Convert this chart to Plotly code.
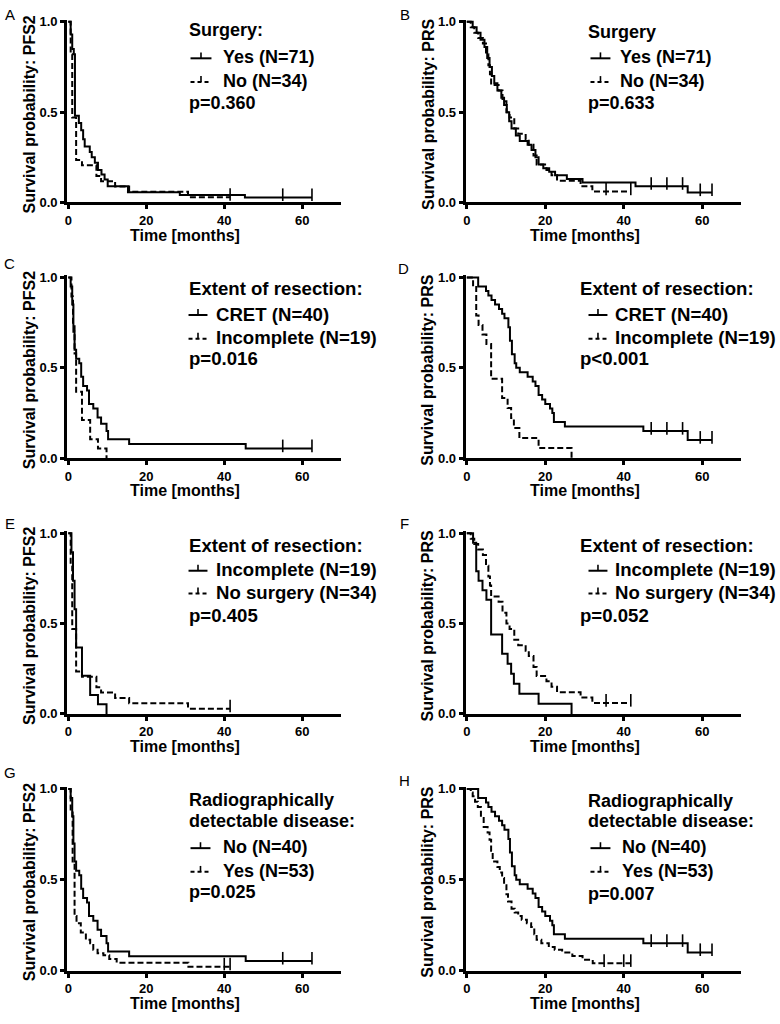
import numpy as np
import plotly.graph_objects as go

# ---------------- DATA (months, survival probability) ----------------
# PFS2 – surgery yes (N=71)
pfs2_surg_yes_t = [0, 0.6, 1.0, 1.4, 1.7, 2.7, 3.3, 3.8, 4.2, 5.5, 6.0, 6.8, 7.6, 8.5, 9.3, 10.1, 15.3, 28.6, 45.3, 62.5]
pfs2_surg_yes_s = [1.0, 0.93, 0.85, 0.82, 0.48, 0.44, 0.40, 0.35, 0.31, 0.28, 0.25, 0.22, 0.18, 0.155, 0.127, 0.09, 0.056, 0.042, 0.028, 0.028]
pfs2_surg_yes_c = [55.0, 62.5]
# PFS2 – no surgery (N=34)
pfs2_nosurg_t = [0, 0.6, 1.0, 2.0, 3.5, 7.2, 8.4, 12.0, 15.6, 30.7, 41.5]
pfs2_nosurg_s = [1.0, 0.82, 0.47, 0.235, 0.206, 0.147, 0.118, 0.088, 0.059, 0.029, 0.029]
pfs2_nosurg_c = [41.5]
# PFS2 – CRET (N=40) = no radiographically detectable disease
pfs2_cret_t = [0, 0.6, 1.0, 1.3, 1.6, 2.0, 2.8, 3.3, 3.8, 4.8, 5.3, 6.4, 7.5, 8.4, 9.8, 10.2, 15.6, 45.5, 62.5]
pfs2_cret_s = [1.0, 0.95, 0.85, 0.70, 0.60, 0.55, 0.525, 0.45, 0.40, 0.375, 0.30, 0.275, 0.225, 0.19, 0.15, 0.105, 0.079, 0.053, 0.053]
pfs2_cret_c = [55.0, 62.5]
# PFS2 – incomplete resection (N=19)
pfs2_inc_t = [0, 0.8, 1.2, 1.6, 2.0, 3.5, 5.6, 7.6, 9.8]
pfs2_inc_s = [1.0, 0.895, 0.737, 0.579, 0.368, 0.211, 0.105, 0.053, 0.0]
pfs2_inc_c = []
# PFS2 – radiographically detectable disease yes (N=53)
pfs2_rad_yes_t = [0, 0.6, 1.1, 1.6, 2.1, 3.2, 4.5, 5.6, 6.4, 7.5, 9.0, 10.5, 12.4, 30.8, 41.5]
pfs2_rad_yes_s = [1.0, 0.87, 0.60, 0.30, 0.26, 0.21, 0.17, 0.15, 0.115, 0.096, 0.085, 0.064, 0.043, 0.021, 0.021]
pfs2_rad_yes_c = [40.0, 41.5]

# PRS – surgery yes (N=71)
prs_surg_yes_t = [0, 1.5, 2.5, 3.5, 4.5, 5.2, 5.8, 6.4, 7.0, 7.8, 8.8, 9.5, 10.2, 10.8, 11.4, 12.5, 13.5, 15.5, 16.5, 17.5, 18.3, 19.5, 21.0, 22.5, 25.5, 29.5, 43.0, 56.3, 62.5]
prs_surg_yes_s = [1.0, 0.97, 0.94, 0.90, 0.86, 0.80, 0.75, 0.70, 0.66, 0.62, 0.58, 0.54, 0.50, 0.45, 0.41, 0.37, 0.34, 0.32, 0.29, 0.25, 0.21, 0.19, 0.17, 0.15, 0.13, 0.11, 0.09, 0.055, 0.055]
prs_surg_yes_c = [47.0, 51.0, 55.0, 59.5, 62.5]
# PRS – no surgery (N=34)
prs_nosurg_t = [0, 1.0, 1.9, 2.9, 4.1, 4.9, 5.5, 5.9, 6.2, 8.1, 9.1, 10.1, 10.9, 12.1, 13.1, 15.0, 15.8, 17.0, 17.8, 20.3, 21.6, 23.0, 29.0, 32.0, 41.8]
prs_nosurg_s = [1.0, 0.97, 0.94, 0.91, 0.88, 0.82, 0.76, 0.71, 0.65, 0.62, 0.56, 0.50, 0.47, 0.41, 0.38, 0.35, 0.32, 0.26, 0.21, 0.18, 0.15, 0.12, 0.09, 0.06, 0.06]
prs_nosurg_c = [35.5, 41.8]
# PRS – CRET (N=40) = no radiographically detectable disease
prs_cret_t = [0, 2.9, 4.9, 5.5, 6.3, 7.2, 8.2, 9.0, 9.6, 10.6, 11.0, 11.5, 12.2, 12.6, 13.5, 15.5, 16.8, 17.5, 18.3, 19.2, 20.0, 21.2, 21.8, 22.2, 25.0, 45.0, 56.3, 62.5]
prs_cret_s = [1.0, 0.95, 0.925, 0.9, 0.875, 0.85, 0.825, 0.8, 0.775, 0.725, 0.65, 0.575, 0.525, 0.5, 0.475, 0.45, 0.425, 0.4, 0.35, 0.325, 0.3, 0.275, 0.25, 0.2, 0.175, 0.15, 0.10, 0.10]
prs_cret_c = [47.0, 51.0, 55.0, 59.5, 62.5]
# PRS – incomplete resection (N=19)
prs_inc_t = [0, 1.6, 2.4, 3.0, 4.0, 5.0, 6.2, 9.0, 10.4, 11.3, 12.0, 13.4, 18.3, 26.7]
prs_inc_s = [1.0, 0.947, 0.789, 0.737, 0.684, 0.632, 0.44, 0.333, 0.278, 0.222, 0.167, 0.111, 0.056, 0.0]
prs_inc_c = []
# PRS – radiographically detectable disease yes (N=53)
prs_rad_yes_t = [0, 1.0, 1.5, 2.1, 2.8, 3.6, 4.3, 5.3, 5.8, 6.2, 6.6, 7.8, 8.4, 9.0, 9.5, 10.1, 10.5, 11.4, 12.2, 13.1, 14.0, 15.3, 16.4, 17.2, 17.8, 19.0, 20.9, 22.4, 24.3, 26.9, 29.5, 32.1, 41.8]
prs_rad_yes_s = [1.0, 0.98, 0.96, 0.93, 0.90, 0.84, 0.79, 0.76, 0.72, 0.66, 0.60, 0.57, 0.54, 0.51, 0.47, 0.42, 0.38, 0.34, 0.32, 0.30, 0.28, 0.26, 0.24, 0.20, 0.17, 0.15, 0.13, 0.115, 0.10, 0.08, 0.06, 0.04, 0.04]
prs_rad_yes_c = [35.0, 40.0, 41.8]

x_ticks = [0, 20, 40, 60]
x_ticktext = ["0", "20", "40", "60"]
y_ticks = [0, 0.5, 1.0]
y_ticktext = ["0.0", "0.5", "1.0"]

# ---------------- LAYOUT SPEC ----------------
W, H = 780, 1024
FONT = "Arial, 'Liberation Sans', sans-serif"


def px(x):
    return x / W


def py(y):
    return 1 - y / H


rows_px = [(200, 17), (459, 276), (718, 535), (978, 794)]  # (y of 0, y of 1.0)
cols_px = {"L": (66.5, 301.0), "R": (466.0, 702.0)}        # (x of 0, x of 60)

panels = [
    dict(letter="A", side="L", row=0, ylab="Survival probability: PFS2",
         head=["Surgery:"], labels=["Yes (N=71)", "No (N=34)"], p="p=0.360",
         solid=(pfs2_surg_yes_t, pfs2_surg_yes_s, pfs2_surg_yes_c),
         dashed=(pfs2_nosurg_t, pfs2_nosurg_s, pfs2_nosurg_c), fs=18,
         hx=185, tx=220, samp=(189, 210), ly=[25, 53, 77, 99], lpos=(8, 10)),
    dict(letter="B", side="R", row=0, ylab="Survival probability: PRS",
         head=["Surgery"], labels=["Yes (N=71)", "No (N=34)"], p="p=0.633",
         solid=(prs_surg_yes_t, prs_surg_yes_s, prs_surg_yes_c),
         dashed=(prs_nosurg_t, prs_nosurg_s, prs_nosurg_c), fs=18,
         hx=586, tx=618, samp=(590, 610), ly=[27, 53, 77, 99], lpos=(404, 10)),
    dict(letter="C", side="L", row=1, ylab="Survival probability: PFS2",
         head=["Extent of resection:"], labels=["CRET (N=40)", "Incomplete (N=19)"], p="p=0.016",
         solid=(pfs2_cret_t, pfs2_cret_s, pfs2_cret_c),
         dashed=(pfs2_inc_t, pfs2_inc_s, pfs2_inc_c), fs=18.6,
         hx=185, tx=213, samp=(187, 206), ly=[287, 313, 337, 358], lpos=(8, 262)),
    dict(letter="D", side="R", row=1, ylab="Survival probability: PRS",
         head=["Extent of resection:"], labels=["CRET (N=40)", "Incomplete (N=19)"], p="p<0.001",
         solid=(prs_cret_t, prs_cret_s, prs_cret_c),
         dashed=(prs_inc_t, prs_inc_s, prs_inc_c), fs=18.6,
         hx=577, tx=613, samp=(588, 607), ly=[287, 313, 337, 358], lpos=(403, 267)),
    dict(letter="E", side="L", row=2, ylab="Survival probability: PFS2",
         head=["Extent of resection:"], labels=["Incomplete (N=19)", "No surgery (N=34)"], p="p=0.405",
         solid=(pfs2_inc_t, pfs2_inc_s, pfs2_inc_c),
         dashed=(pfs2_nosurg_t, pfs2_nosurg_s, pfs2_nosurg_c), fs=18.6,
         hx=185, tx=213, samp=(187, 206), ly=[547, 572, 595, 618], lpos=(8, 525)),
    dict(letter="F", side="R", row=2, ylab="Survival probability: PRS",
         head=["Extent of resection:"], labels=["Incomplete (N=19)", "No surgery (N=34)"], p="p=0.052",
         solid=(prs_inc_t, prs_inc_s, prs_inc_c),
         dashed=(prs_nosurg_t, prs_nosurg_s, prs_nosurg_c), fs=18.6,
         hx=577, tx=613, samp=(588, 607), ly=[547, 572, 595, 618], lpos=(404, 525)),
    dict(letter="G", side="L", row=3, ylab="Survival probability: PFS2",
         head=["Radiographically", "detectable disease:"], labels=["No (N=40)", "Yes (N=53)"], p="p=0.025",
         solid=(pfs2_cret_t, pfs2_cret_s, pfs2_cret_c),
         dashed=(pfs2_rad_yes_t, pfs2_rad_yes_s, pfs2_rad_yes_c), fs=18,
         hx=185, tx=220, samp=(189, 209), ly=[805, 826, 853, 877, 898], lpos=(8, 777)),
    dict(letter="H", side="R", row=3, ylab="Survival probability: PRS",
         head=["Radiographically", "detectable disease:"], labels=["No (N=40)", "Yes (N=53)"], p="p=0.007",
         solid=(prs_cret_t, prs_cret_s, prs_cret_c),
         dashed=(prs_rad_yes_t, prs_rad_yes_s, prs_rad_yes_c), fs=18,
         hx=586, tx=620, samp=(590, 610), ly=[806, 826, 853, 877, 900], lpos=(404, 785)),
]


def surv_at(t, s, c):
    t = np.asarray(t)
    s = np.asarray(s)
    idx = np.searchsorted(t, c, side="right") - 1
    return s[np.clip(idx, 0, len(s) - 1)]


fig = go.Figure()
annotations = []
shapes = []
XMIN, XMAX, YMAX = -0.3, 70, 1.012
DASH = "6px,3px"

for i, pnl in enumerate(panels, start=1):
    xs = "x" if i == 1 else f"x{i}"
    ys = "y" if i == 1 else f"y{i}"
    xname = "xaxis" if i == 1 else f"xaxis{i}"
    yname = "yaxis" if i == 1 else f"yaxis{i}"
    x0px, x60px = cols_px[pnl["side"]]
    ppm = (x60px - x0px) / 60.0
    y0px, y1px = rows_px[pnl["row"]]
    ppu = (y0px - y1px)

    dom_x = [px(x0px + XMIN * ppm), px(x0px + XMAX * ppm)]
    dom_y = [py(y0px), py(y0px - YMAX * ppu)]

    for (t, s, c), dash in [(pnl["solid"], "solid"), (pnl["dashed"], DASH)]:
        fig.add_trace(go.Scatter(x=t, y=s, mode="lines", line_shape="hv",
                                 line=dict(color="black", width=2, dash=dash),
                                 xaxis=xs, yaxis=ys, showlegend=False, hoverinfo="skip"))
        if len(c):
            fig.add_trace(go.Scatter(x=c, y=surv_at(t, s, c) + 0.015, mode="markers",
                                     marker=dict(symbol="line-ns", size=9,
                                                 line=dict(color="black", width=1.6)),
                                     xaxis=xs, yaxis=ys, showlegend=False, hoverinfo="skip",
                                     cliponaxis=False))

    axis_common = dict(showline=True, linecolor="black", linewidth=3, ticks="outside",
                       ticklen=4, tickwidth=2.5, tickcolor="black", showgrid=False,
                       zeroline=False, fixedrange=True,
                       tickfont=dict(family=FONT, size=13, color="black", weight="bold"))
    fig.update_layout({
        xname: dict(domain=dom_x, anchor=ys, range=[XMIN, XMAX], tickvals=x_ticks,
                    ticktext=x_ticktext, **axis_common),
        yname: dict(domain=dom_y, anchor=xs, range=[0, YMAX], tickvals=y_ticks,
                    ticktext=y_ticktext, **axis_common),
    })

    # axis titles
    annotations.append(dict(text="Time [months]", x=px((x0px + x60px) / 2), y=py(y0px + 33),
                            xref="paper", yref="paper", showarrow=False, xanchor="center",
                            yanchor="middle",
                            font=dict(family=FONT, size=16, color="black", weight="bold")))
    annotations.append(dict(text=pnl["ylab"], x=px(x0px - 39), y=py((y0px + y1px) / 2 + 2),
                            xref="paper", yref="paper", showarrow=False, textangle=-90,
                            xanchor="center", yanchor="middle",
                            font=dict(family=FONT, size=16, color="black", weight="bold")))
    # panel letter
    annotations.append(dict(text=pnl["letter"], x=px(pnl["lpos"][0]), y=py(pnl["lpos"][1]),
                            xref="paper", yref="paper", showarrow=False, xanchor="center",
                            yanchor="middle", font=dict(family=FONT, size=15, color="black")))
    # legend block
    lf = dict(family=FONT, size=pnl["fs"], color="black", weight="bold")
    nh = len(pnl["head"])
    for k, h in enumerate(pnl["head"]):
        annotations.append(dict(text=h, x=px(pnl["hx"]), y=py(pnl["ly"][k]), xref="paper",
                                yref="paper", showarrow=False, xanchor="left",
                                yanchor="middle", font=lf))
    for k, (lab, dash) in enumerate(zip(pnl["labels"], ["solid", "dash"])):
        yy = pnl["ly"][nh + k]
        annotations.append(dict(text=lab, x=px(pnl["tx"]), y=py(yy), xref="paper",
                                yref="paper", showarrow=False, xanchor="left",
                                yanchor="middle", font=lf))
        a, b = pnl["samp"]
        shapes.append(dict(type="line", xref="paper", yref="paper", x0=px(a), x1=px(b),
                           y0=py(yy + 1), y1=py(yy + 1),
                           line=dict(color="black", width=2,
                                     dash="solid" if dash == "solid" else "4px,3px")))
        shapes.append(dict(type="line", xref="paper", yref="paper", x0=px((a + b) / 2),
                           x1=px((a + b) / 2), y0=py(yy + 1), y1=py(yy - 5),
                           line=dict(color="black", width=1.6)))
    annotations.append(dict(text=pnl["p"], x=px(pnl["hx"]), y=py(pnl["ly"][-1]), xref="paper",
                            yref="paper", showarrow=False, xanchor="left", yanchor="middle",
                            font=lf))

fig.update_layout(width=W, height=H, margin=dict(l=0, r=0, t=0, b=0),
                  paper_bgcolor="white", plot_bgcolor="white", showlegend=False,
                  annotations=annotations, shapes=shapes,
                  font=dict(family=FONT, color="black"))

fig.write_html("out.html", config={"displayModeBar": False},
               post_script="document.body.style.margin='0px';document.body.style.overflow='hidden';")
